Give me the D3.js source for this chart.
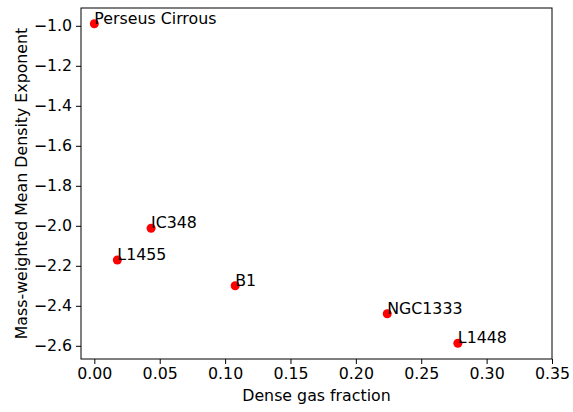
<!DOCTYPE html>
<html>
<head>
<meta charset="utf-8">
<script src="https://cdn.jsdelivr.net/npm/d3@7"></script>
<style>
  body { margin: 0; background: #fff; }
  svg text { font-family: "DejaVu Sans", sans-serif; }
</style>
</head>
<body>
<div id="chart"></div>
<script>

// data
var names = ["Perseus Cirrous", "IC348", "L1455", "B1", "NGC1333", "L1448"];
var denseFraction = [0.0, 0.0434, 0.0176, 0.1077, 0.224, 0.278];
var densityExponent = [-0.99, -2.012, -2.171, -2.30, -2.44, -2.587];

var xTicks = [0.00, 0.05, 0.10, 0.15, 0.20, 0.25, 0.30, 0.35];
var yTicks = [-1.0, -1.2, -1.4, -1.6, -1.8, -2.0, -2.2, -2.4, -2.6];

var full_width = 573, full_height = 412;
var margin = {left: 81, right: 21, top: 8, bottom: 53};
var fontSize = "15.8px";

var width = full_width - margin.left - margin.right;
var height = full_height - margin.top - margin.bottom;

var svg = d3.select("#chart")
    .append("svg")
    .attr("width", full_width)
    .attr("height", full_height);

var chart = svg.append("g")
    .attr("transform", "translate(" + margin.left + "," + margin.top + ")");

var x = d3.scaleLinear().domain([-0.0102, 0.35]).range([0, width]);
var y = d3.scaleLinear().domain([-2.666, -0.911]).range([height, 0]);

var minus = function(s){ return s.replace("-", "\u2212"); };

var xAxis = chart.append("g")
    .attr("transform", "translate(0," + height + ")")
    .call(d3.axisBottom(x).tickValues(xTicks).tickSize(5).tickPadding(4)
        .tickFormat(function(d){ return d3.format(".2f")(d); }));

var yAxis = chart.append("g")
    .call(d3.axisLeft(y).tickValues(yTicks).tickSize(5).tickPadding(4)
        .tickFormat(function(d){ return minus(d3.format(".1f")(d)); }));

[xAxis, yAxis].forEach(function(a){
    a.select(".domain").remove();
    a.selectAll("line").attr("stroke", "#000").attr("stroke-width", 1);
    a.selectAll("text").attr("font-size", fontSize).attr("fill", "#000")
        .style("font-family", "DejaVu Sans");
});

// frame
chart.append("rect")
    .attr("x", 0).attr("y", 0)
    .attr("width", width).attr("height", height)
    .attr("fill", "none")
    .attr("stroke", "#000")
    .attr("stroke-width", 1);

var pts = names.map(function(n, i){
    return {name: n, fx: denseFraction[i], ex: densityExponent[i]};
});

chart.selectAll("circle.pt")
    .data(pts)
    .enter()
    .append("circle")
    .attr("class", "pt")
    .attr("cx", function(d){ return x(d.fx); })
    .attr("cy", function(d){ return y(d.ex); })
    .attr("r", 4.5)
    .attr("fill", "#ff0000");

chart.selectAll("text.lbl")
    .data(pts)
    .enter()
    .append("text")
    .attr("class", "lbl")
    .attr("x", function(d){ return x(d.fx); })
    .attr("y", function(d){ return y(d.ex); })
    .attr("font-size", fontSize)
    .attr("fill", "#000")
    .text(function(d){ return d.name; });

svg.append("text")
    .attr("x", margin.left + width / 2)
    .attr("y", 401)
    .attr("text-anchor", "middle")
    .attr("font-size", fontSize)
    .text("Dense gas fraction");

svg.append("text")
    .attr("transform", "translate(27," + (margin.top + height / 2) + ") rotate(-90)")
    .attr("text-anchor", "middle")
    .attr("font-size", fontSize)
    .text("Mass-weighted Mean Density Exponent");

</script>
</body>
</html>
